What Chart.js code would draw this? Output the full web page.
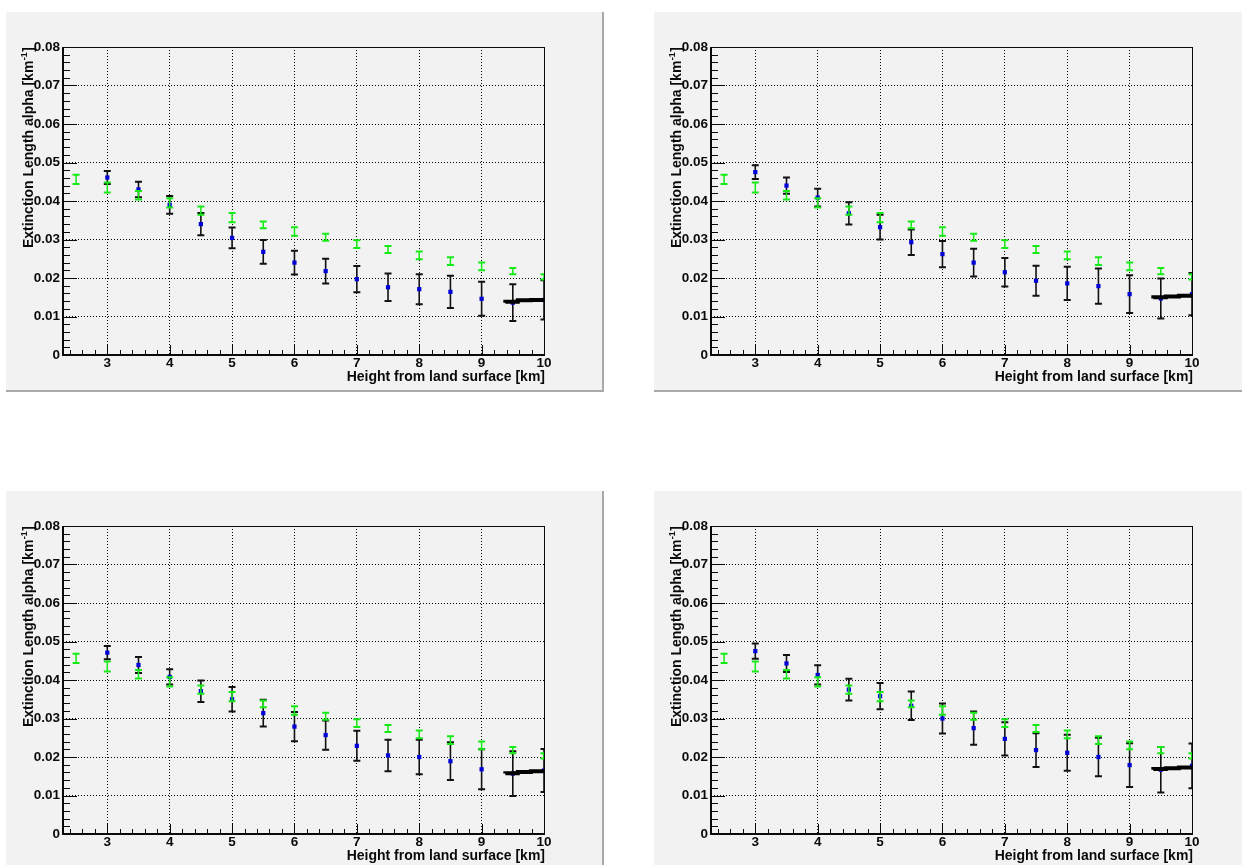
<!DOCTYPE html>
<html>
<head>
<meta charset="utf-8">
<script src="https://cdn.jsdelivr.net/npm/chart.js@4.4.1/dist/chart.umd.min.js"></script>
<style>
  body { margin: 0; background: #fff; width: 1242px; height: 865px; overflow: hidden; position: relative; }
  .pad { position: absolute; width: 598px; height: 380px; background: #f2f2f2;
         border-right: 2px solid #a9a9a9; border-bottom: 2px solid #a9a9a9; box-sizing: border-box; }
  .pad canvas { position: absolute; left: 0; top: 0; }
</style>
</head>
<body>
<div class="pad" style="left:6px;top:12px"><canvas id="c1" width="596" height="378"></canvas></div>
<div class="pad" style="left:654px;top:12px"><canvas id="c2" width="596" height="378"></canvas></div>
<div class="pad" style="left:6px;top:491px"><canvas id="c3" width="596" height="378"></canvas></div>
<div class="pad" style="left:654px;top:491px"><canvas id="c4" width="596" height="378"></canvas></div>
<script>
// reference curve (green), same on every pad
const refHeights = [2.5, 3, 3.5, 4, 4.5, 5, 5.5, 6, 6.5, 7, 7.5, 8, 8.5, 9, 9.5, 10];
const refAlpha = [0.0456, 0.0435, 0.0415, 0.0395, 0.0375, 0.0357, 0.0338, 0.0321,
                  0.0306, 0.0288, 0.0274, 0.0259, 0.0244, 0.0230, 0.0218, 0.0203];
const refErr = [0.0012, 0.0013, 0.0011, 0.0012, 0.0011, 0.0012, 0.0009, 0.0011,
                0.0009, 0.0010, 0.0009, 0.0010, 0.0010, 0.0010, 0.0008, 0.0007];

// measured points (blue with black errors)
const heights = [3, 3.5, 4, 4.5, 5, 5.5, 6, 6.5, 7, 7.5, 8, 8.5, 9, 9.5, 10];
const alpha1 = [0.0461, 0.0430, 0.0390, 0.0340, 0.0304, 0.0268, 0.0240, 0.0218,
                0.0197, 0.0176, 0.0171, 0.0164, 0.0146, 0.0136, 0.0143];
const err1 = [0.0017, 0.0020, 0.0023, 0.0029, 0.0027, 0.0031, 0.0031, 0.0032,
              0.0034, 0.0036, 0.0039, 0.0042, 0.0044, 0.0048, 0.0051];
const alpha2 = [0.0475, 0.0440, 0.0409, 0.0368, 0.0332, 0.0293, 0.0262, 0.0240,
                0.0215, 0.0193, 0.0186, 0.0179, 0.0158, 0.0147, 0.0158];
const err2 = [0.0018, 0.0021, 0.0023, 0.0029, 0.0032, 0.0033, 0.0034, 0.0036,
              0.0037, 0.0039, 0.0043, 0.0046, 0.0049, 0.0052, 0.0055];
const alpha3 = [0.0471, 0.0439, 0.0408, 0.0371, 0.0350, 0.0314, 0.0279, 0.0257,
                0.0229, 0.0204, 0.0200, 0.0189, 0.0168, 0.0157, 0.0165];
const err3 = [0.0017, 0.0021, 0.0020, 0.0028, 0.0032, 0.0035, 0.0038, 0.0038,
              0.0039, 0.0041, 0.0045, 0.0049, 0.0052, 0.0058, 0.0056];
const alpha4 = [0.0475, 0.0443, 0.0413, 0.0375, 0.0358, 0.0333, 0.0300, 0.0275,
                0.0247, 0.0218, 0.0211, 0.0200, 0.0179, 0.0167, 0.0177];
const err4 = [0.0020, 0.0022, 0.0025, 0.0028, 0.0034, 0.0037, 0.0039, 0.0043,
              0.0043, 0.0044, 0.0047, 0.0050, 0.0057, 0.0059, 0.0058];

// thick stepped segment at the top end
const fitHeights = [9.38, 9.58, 9.79, 10];
const fit1 = [0.0136, 0.0138, 0.0142, 0.0143];
const fit2 = [0.0147, 0.0150, 0.0152, 0.0154];
const fit3 = [0.0157, 0.0158, 0.0161, 0.0163];
const fit4 = [0.0167, 0.0169, 0.0171, 0.0173];

const xTicks = [3, 4, 5, 6, 7, 8, 9, 10];
const xTickLabels = ['3', '4', '5', '6', '7', '8', '9', '10'];
const yTicks = [0, 0.01, 0.02, 0.03, 0.04, 0.05, 0.06, 0.07, 0.08];
const yTickLabels = ['0', '0.01', '0.02', '0.03', '0.04', '0.05', '0.06', '0.07', '0.08'];
const xTitle = 'Height from land surface [km]';
const yTitle = ['Extinction Length alpha [km', '-1', ']'];

const FONT = '"Liberation Sans", Arial, sans-serif';
const INK = '#0a0a0a';

const errorBars = {
  id: 'errorBars',
  beforeDatasetDraw(chart, args) {
    const ds = chart.data.datasets[args.index];
    if (!ds.errors) return;
    const { ctx, chartArea: a, scales: { x, y } } = chart;
    ctx.save();
    ctx.beginPath();
    ctx.rect(a.left, a.top, a.right - a.left, a.bottom - a.top);
    ctx.clip();
    ctx.strokeStyle = ds.errorColor;
    ds.data.forEach((p, i) => {
      const px = x.getPixelForValue(p.x);
      const hi = y.getPixelForValue(p.y + ds.errors[i]);
      const lo = y.getPixelForValue(p.y - ds.errors[i]);
      ctx.lineWidth = ds.errorWidth;
      ctx.beginPath();
      ctx.moveTo(px, hi); ctx.lineTo(px, lo);
      ctx.stroke();
      ctx.lineWidth = 2;
      ctx.beginPath();
      ctx.moveTo(px - 3.5, hi); ctx.lineTo(px + 3.5, hi);
      ctx.moveTo(px - 3.5, lo); ctx.lineTo(px + 3.5, lo);
      ctx.stroke();
    });
    ctx.restore();
  }
};

const rootFrame = {
  id: 'rootFrame',
  beforeDatasetsDraw(chart) {
    const { ctx, chartArea: a, scales: { x, y } } = chart;
    ctx.save();
    ctx.strokeStyle = INK;
    ctx.lineWidth = 1;
    ctx.beginPath();
    for (let i = 0; i <= 40; i++) {
      const py = Math.round(y.getPixelForValue(i * 0.002)) + 0.5;
      ctx.moveTo(a.left, py);
      ctx.lineTo(a.left + (i % 5 === 0 ? 14 : 7), py);
    }
    for (let i = 12; i <= 50; i++) {
      const px = Math.round(x.getPixelForValue(i * 0.2)) + 0.5;
      ctx.moveTo(px, a.bottom);
      ctx.lineTo(px, a.bottom - (i % 5 === 0 ? 10 : 5));
    }
    ctx.stroke();
    // top and right sides of the frame
    ctx.beginPath();
    ctx.moveTo(a.left, a.top + 0.5); ctx.lineTo(a.right + 0.5, a.top + 0.5);
    ctx.lineTo(a.right + 0.5, a.bottom);
    ctx.stroke();
    // axes
    ctx.lineWidth = 2;
    ctx.beginPath();
    ctx.moveTo(a.left, a.top); ctx.lineTo(a.left, a.bottom);
    ctx.lineTo(a.right + 1, a.bottom);
    ctx.stroke();
    ctx.restore();
  },
  afterDraw(chart) {
    const { ctx, chartArea: a } = chart;
    ctx.save();
    ctx.fillStyle = INK;
    ctx.font = 'bold 14px ' + FONT;
    ctx.textAlign = 'right';
    ctx.textBaseline = 'alphabetic';
    ctx.fillText(xTitle, a.right + 1, a.bottom + 26);

    ctx.translate(27, a.top);
    ctx.rotate(-Math.PI / 2);
    ctx.textAlign = 'left';
    ctx.font = 'bold 14px ' + FONT;
    const w1 = ctx.measureText(yTitle[0]).width;
    const w3 = ctx.measureText(yTitle[2]).width;
    ctx.font = 'bold 9px ' + FONT;
    const w2 = ctx.measureText(yTitle[1]).width;
    const x0 = -(w1 + w2 + w3 + 1);
    ctx.font = 'bold 14px ' + FONT;
    ctx.fillText(yTitle[0], x0, 0);
    ctx.fillText(yTitle[2], x0 + w1 + w2 + 1, 0);
    ctx.font = 'bold 9px ' + FONT;
    ctx.fillText(yTitle[1], x0 + w1 + 0.5, -6);
    ctx.restore();
  }
};

function points(xs, ys) {
  return xs.map((v, i) => ({ x: v, y: ys[i] }));
}

function makePad(id, alpha, err, fit) {
  new Chart(document.getElementById(id), {
    type: 'scatter',
    data: {
      datasets: [
        {
          type: 'line',
          data: points(fitHeights, fit),
          borderColor: '#000',
          borderWidth: 4,
          stepped: 'after',
          pointRadius: 0,
          fill: false
        },
        {
          data: points(refHeights, refAlpha),
          errors: refErr,
          errorColor: '#16ea16',
          errorWidth: 1.5,
          pointRadius: 0,
          pointHoverRadius: 0
        },
        {
          data: points(heights, alpha),
          errors: err,
          errorColor: '#111',
          errorWidth: 1.6,
          pointStyle: 'rect',
          pointRadius: 3,
          backgroundColor: '#0000d8',
          borderColor: '#0000d8',
          borderWidth: 0
        }
      ]
    },
    options: {
      responsive: false,
      animation: false,
      events: [],
      layout: { padding: { top: 35, right: 58, left: 0, bottom: 0 } },
      plugins: { legend: { display: false }, tooltip: { enabled: false } },
      scales: {
        x: {
          type: 'linear',
          min: 2.29,
          max: 10,
          afterBuildTicks: (s) => { s.ticks = xTicks.map(v => ({ value: v })); },
          afterFit: (s) => { s.height = 35; s.paddingLeft = 0; s.paddingRight = 0; },
          ticks: {
            autoSkip: false, maxRotation: 0, padding: 0, color: INK,
            font: { family: FONT, size: 13.5, weight: 'bold' },
            callback: (v, i) => xTickLabels[i]
          },
          grid: { color: '#000', lineWidth: 1, drawTicks: false },
          border: { display: false, dash: [1, 2] }
        },
        y: {
          min: 0,
          max: 0.08,
          afterBuildTicks: (s) => { s.ticks = yTicks.map(v => ({ value: v })); },
          afterFit: (s) => { s.width = 57; s.paddingTop = 0; s.paddingBottom = 0; },
          ticks: {
            autoSkip: false, padding: 3, color: INK,
            font: { family: FONT, size: 13.5, weight: 'bold' },
            callback: (v, i) => yTickLabels[i]
          },
          grid: { color: '#000', lineWidth: 1, drawTicks: false },
          border: { display: false, dash: [1, 2] }
        }
      }
    },
    plugins: [rootFrame, errorBars]
  });
}

makePad('c1', alpha1, err1, fit1);
makePad('c2', alpha2, err2, fit2);
makePad('c3', alpha3, err3, fit3);
makePad('c4', alpha4, err4, fit4);
</script>
</body>
</html>
